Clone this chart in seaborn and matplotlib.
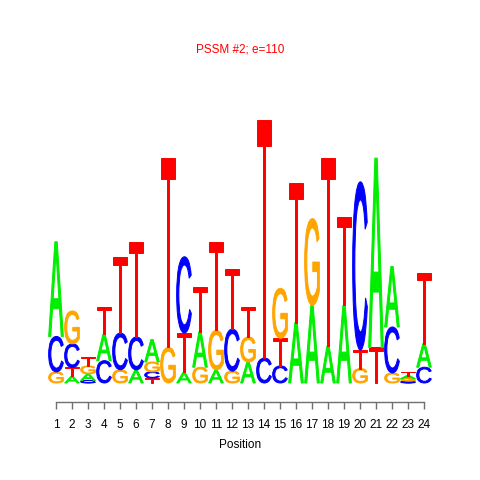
import numpy as np
import matplotlib
matplotlib.use("Agg")
import matplotlib.pyplot as plt
import seaborn as sns
from matplotlib.textpath import TextPath
from matplotlib.patches import PathPatch
from matplotlib.font_manager import FontProperties
from matplotlib.transforms import Affine2D

# information content per position (bits)
positions = list(range(1, 25))
bits_A = [0.72, 0.05, 0.05, 0.20, 0.00, 0.10, 0.17, 0.00, 0.08, 0.27, 0.10, 0.00,
          0.16, 0.00, 0.00, 0.46, 0.59, 0.28, 0.59, 0.00, 1.44, 0.46, 0.023, 0.18]
bits_C = [0.27, 0.18, 0.02, 0.17, 0.28, 0.25, 0.046, 0.00, 0.58, 0.00, 0.00, 0.32,
          0.00, 0.19, 0.13, 0.00, 0.00, 0.00, 0.00, 1.28, 0.00, 0.35, 0.015, 0.12]
bits_G = [0.084, 0.25, 0.06, 0.00, 0.10, 0.00, 0.076, 0.27, 0.00, 0.12, 0.30, 0.09,
          0.19, 0.00, 0.38, 0.00, 0.66, 0.00, 0.00, 0.11, 0.00, 0.076, 0.019, 0.00]
bits_T = [0.00, 0.068, 0.07, 0.21, 0.58, 0.72, 0.038, 1.44, 0.30, 0.34, 0.67, 0.46,
          0.23, 1.81, 0.21, 1.06, 0.00, 1.43, 0.67, 0.14, 0.27, 0.00, 0.027, 0.54]

title = "PSSM #2; e=110"
colors = {"A": "#00ee00", "C": "#0000ff", "G": "#ffa500", "T": "#ff0000"}

sns.set_theme(style="white")
plt.rcParams["font.family"] = ["Liberation Sans", "DejaVu Sans"]

fig = plt.figure(figsize=(4.8, 4.8), dpi=100)
ax = fig.add_axes([0.1, 78 / 480, 0.8, 342 / 480])
ax.set_xlim(0.5, 24.5)
ax.set_ylim(-19 / 131.5, -19 / 131.5 + 342 / 131.5)

fp = FontProperties(family="Liberation Sans", weight="normal")
glyphs = {}
for ch in "ACGT":
    glyphs[ch] = TextPath((0, 0), ch, size=1, prop=fp)


def draw_letter(ch, x, y0, h, w=0.92):
    p = glyphs[ch]
    ext = p.get_extents()
    tr = (Affine2D().translate(-ext.x0, -ext.y0)
          .scale(w / ext.width, h / ext.height)
          .translate(x - w / 2, y0))
    patch = PathPatch(tr.transform_path(p), facecolor=colors[ch],
                      edgecolor=colors[ch], linewidth=0.7, joinstyle="miter",
                      transform=ax.transData)
    ax.add_patch(patch)


for i, pos in enumerate(positions):
    stack = [("A", bits_A[i]), ("C", bits_C[i]), ("G", bits_G[i]), ("T", bits_T[i])]
    stack = sorted([s for s in stack if s[1] > 0], key=lambda s: s[1])
    y = 0.0
    for ch, h in stack:
        draw_letter(ch, pos, y, h)
        y += h

sns.despine(ax=ax, left=True, top=True, right=True)
ax.spines["bottom"].set_bounds(1, 24)
ax.spines["bottom"].set_color("#707070")
ax.spines["bottom"].set_linewidth(1.0)
ax.set_xticks(positions)
ax.set_xticklabels([str(p) for p in positions])
ax.set_yticks([])
ax.tick_params(axis="x", bottom=True, length=5, width=1.0, color="#707070",
               labelcolor="black", labelsize=8.5, pad=7)
ax.grid(False)

fig.text(0.5, 1 - 50 / 480, title, color="red", fontsize=8.5, ha="center", va="center")
fig.text(0.5, 1 - 445 / 480, "Position", color="black", fontsize=8.5, ha="center", va="center")

fig.savefig("out.png", dpi=100)
